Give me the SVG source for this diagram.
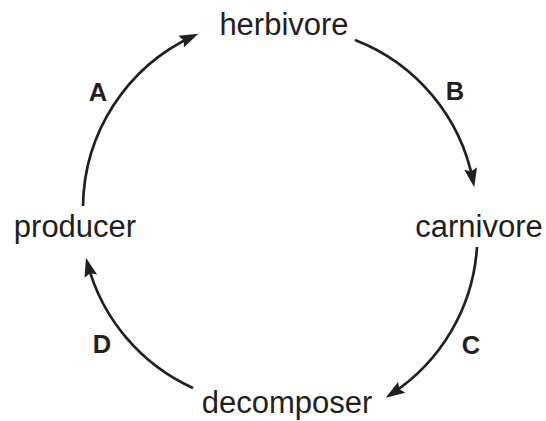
<svg xmlns="http://www.w3.org/2000/svg" width="546" height="421" viewBox="0 0 546 421">
<defs>
<style>
.node{font-family:"Liberation Sans",Arial,sans-serif;font-size:31px;fill:#231f20;text-anchor:middle}
.lbl{font-family:"Liberation Sans",Arial,sans-serif;font-size:25.5px;font-weight:bold;fill:#231f20;text-anchor:middle}
.arc{fill:none;stroke:#231f20;stroke-width:2.7;marker-end:url(#ah)}
</style>
<marker id="ah" markerUnits="userSpaceOnUse" markerWidth="30" markerHeight="30" viewBox="-15 -15 30 30" refX="0" refY="0" orient="auto">
<path d="M6,0 L-13,-6.5 L-10,0 L-13,6.5 Z" fill="#231f20"/>
</marker>
</defs>
<rect width="546" height="421" fill="#fff"/>
<g id="connectors">
<path class="arc" d="M83,206 A190,190 0 0 1 192.9,36.2"/>
<path class="arc" d="M355,40 A190,190 0 0 1 473.1,181.3"/>
<path class="arc" d="M477,247 A190,190 0 0 1 390.8,394.4"/>
<path class="arc" d="M193,388 A190,190 0 0 1 87.5,263.5"/>
<text class="lbl" x="98" y="101">A</text>
<text class="lbl" x="455" y="100">B</text>
<text class="lbl" x="471" y="354">C</text>
<text class="lbl" x="102" y="353">D</text>
</g>
<g id="herbivore"><text class="node" x="284" y="35">herbivore</text></g>
<g id="carnivore"><text class="node" x="479" y="237">carnivore</text></g>
<g id="decomposer"><text class="node" x="287" y="413">decomposer</text></g>
<g id="producer"><text class="node" x="75" y="237">producer</text></g>
</svg>
